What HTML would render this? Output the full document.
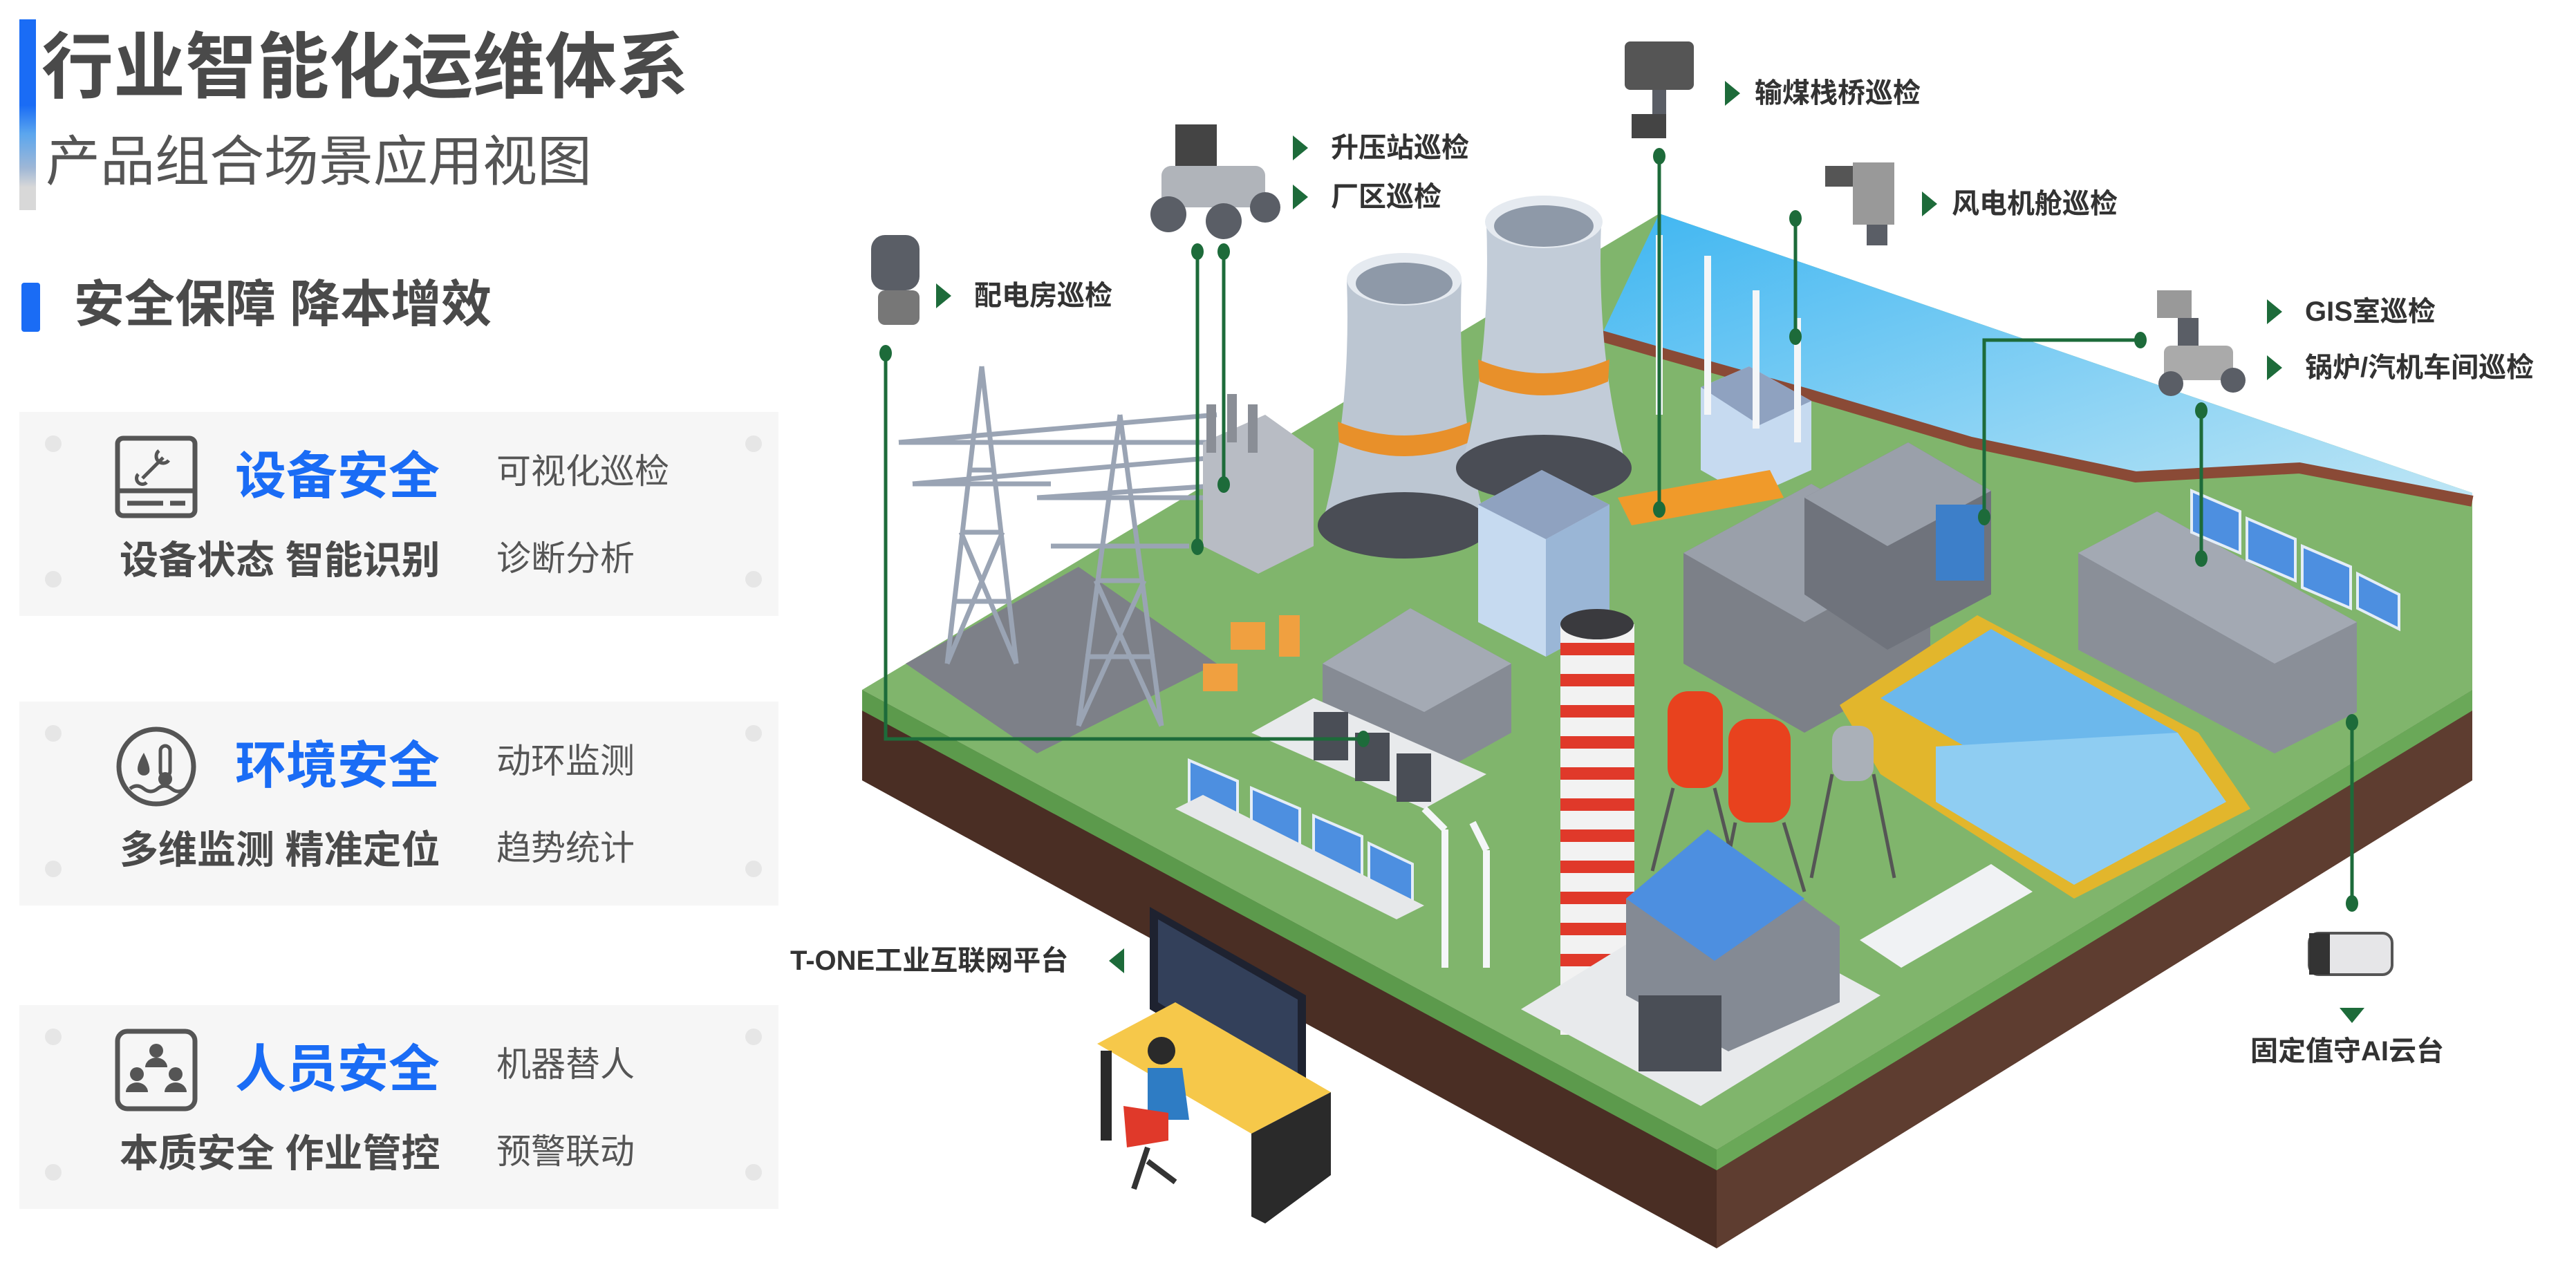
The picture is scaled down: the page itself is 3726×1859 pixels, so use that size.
<!DOCTYPE html>
<html><head><meta charset="utf-8"><style>
html,body{margin:0;padding:0;background:#fff;}
body{width:3726px;height:1859px;position:relative;overflow:hidden;font-family:"Liberation Sans","Noto Sans CJK SC",sans-serif;}
.a{position:absolute;white-space:nowrap;line-height:1;}
.card{position:absolute;left:28px;width:1098px;height:295px;background:#f6f6f6;}
.dot{position:absolute;width:24px;height:24px;border-radius:50%;background:#e6e6e6;}
.h{position:absolute;left:312px;top:33px;font-size:74px;font-weight:bold;color:#1a6cf5;}
.r1{position:absolute;left:690px;top:46px;font-size:50px;color:#555;}
.b{position:absolute;left:145px;top:170px;font-size:56px;font-weight:bold;color:#4a4a4a;}
.r2{position:absolute;left:690px;top:172px;font-size:50px;color:#555;}
.lb{position:absolute;font-size:40px;font-weight:bold;color:#333;white-space:nowrap;line-height:1;}
</style></head><body>
<div class="a" style="left:28px;top:28px;width:24px;height:276px;background:linear-gradient(#1a6cf5 0%,#1a6cf5 45%,#5ba6ee 60%,#9fb7d6 78%,#d8d8d8 88%,#d8d8d8 100%);"></div>
<div class="a" style="left:60px;top:46px;font-size:104px;font-weight:bold;color:#4a4a4a;">行业智能化运维体系</div>
<div class="a" style="left:66px;top:194px;font-size:79px;color:#555;">产品组合场景应用视图</div>
<div class="a" style="left:31px;top:409px;width:27px;height:71px;background:#1a6cf5;border-radius:4px;"></div>
<div class="a" style="left:107px;top:404px;font-size:73px;font-weight:bold;color:#4a4a4a;">安全保障 降本增效</div>

<div class="card" style="top:596px;">
 <div class="dot" style="left:37px;top:34px"></div><div class="dot" style="left:1050px;top:34px"></div>
 <div class="dot" style="left:37px;top:230px"></div><div class="dot" style="left:1050px;top:230px"></div>
 <svg style="position:absolute;left:138px;top:34px" width="120" height="120" viewBox="0 0 120 120"><rect x="4" y="4" width="112" height="112" rx="8" fill="none" stroke="#555" stroke-width="7"/><line x1="4" y1="80" x2="116" y2="80" stroke="#555" stroke-width="7"/><line x1="18" y1="98" x2="70" y2="98" stroke="#555" stroke-width="7"/><line x1="80" y1="98" x2="102" y2="98" stroke="#555" stroke-width="7"/><path d="M40 62 L70 32 M64 22 a10 10 0 1 0 14 14 M34 56 a8 8 0 1 0 12 12" fill="none" stroke="#555" stroke-width="5"/></svg>
 <div class="h">设备安全</div><div class="r1">可视化巡检</div>
 <div class="b">设备状态 智能识别</div><div class="r2">诊断分析</div>
</div>
<div class="card" style="top:1015px;">
 <div class="dot" style="left:37px;top:34px"></div><div class="dot" style="left:1050px;top:34px"></div>
 <div class="dot" style="left:37px;top:230px"></div><div class="dot" style="left:1050px;top:230px"></div>
 <svg style="position:absolute;left:138px;top:34px" width="120" height="120" viewBox="0 0 120 120"><circle cx="60" cy="60" r="54" fill="none" stroke="#555" stroke-width="7"/><path d="M42 40 Q30 60 34 68 a9 9 0 0 0 16 0 Q52 60 42 40z" fill="#555"/><rect x="66" y="30" width="14" height="44" rx="7" fill="none" stroke="#555" stroke-width="5"/><circle cx="73" cy="78" r="10" fill="#555"/><path d="M22 92 q10 -8 20 0 t20 0 t20 0 t20 0" fill="none" stroke="#555" stroke-width="5"/></svg>
 <div class="h">环境安全</div><div class="r1">动环监测</div>
 <div class="b">多维监测 精准定位</div><div class="r2">趋势统计</div>
</div>
<div class="card" style="top:1454px;">
 <div class="dot" style="left:37px;top:34px"></div><div class="dot" style="left:1050px;top:34px"></div>
 <div class="dot" style="left:37px;top:230px"></div><div class="dot" style="left:1050px;top:230px"></div>
 <svg style="position:absolute;left:138px;top:34px" width="120" height="120" viewBox="0 0 120 120"><rect x="4" y="4" width="112" height="112" rx="14" fill="none" stroke="#555" stroke-width="7"/><circle cx="60" cy="32" r="10" fill="#555"/><path d="M44 56 a16 14 0 0 1 32 0z" fill="#555"/><circle cx="32" cy="66" r="10" fill="#555"/><path d="M16 92 a16 14 0 0 1 32 0z" fill="#555"/><circle cx="88" cy="66" r="10" fill="#555"/><path d="M72 92 a16 14 0 0 1 32 0z" fill="#555"/></svg>
 <div class="h">人员安全</div><div class="r1">机器替人</div>
 <div class="b">本质安全 作业管控</div><div class="r2">预警联动</div>
</div>

<svg style="position:absolute;left:0;top:0" width="3726" height="1859" viewBox="0 0 3726 1859">
<defs><linearGradient id="sky" x1="0" y1="0" x2="1" y2="1"><stop offset="0" stop-color="#3fb6f2"/><stop offset="1" stop-color="#bfe6f5"/></linearGradient></defs>
<polygon points="1247,998 2483,1663 2483,1806 1247,1129" fill="#4a2e24"/>
<polygon points="2483,1663 3576,998 3576,1129 2483,1806" fill="#5e3d30"/>
<polygon points="1247,998 2483,1663 2483,1693 1247,1028" fill="#5c9a4c"/>
<polygon points="2483,1663 3576,998 3576,1028 2483,1693" fill="#6aa858"/>
<polygon points="1247,998 2400,309 3576,713 3576,998 2483,1663" fill="#80b56c"/>
<polygon points="2400,309 3576,713 3576,725 3326,677 3089,690 2851,640 2614,570 2400,510 2316,486" fill="url(#sky)"/>
<path d="M2316,486 2400,510 2614,570 2851,640 3089,690 3326,677 3576,725" fill="none" stroke="#8a4a36" stroke-width="16"/>
<polygon points="1310,960 1560,820 1760,960 1500,1090" fill="#7d8088"/>
<g stroke="#9aa4b4" stroke-width="7" fill="none">
<path d="M1420,530 1370,960 M1420,530 1470,960 M1380,870 1460,870 M1390,770 1450,770 M1400,680 1440,680 M1370,960 1450,770 M1470,960 1390,770 M1300,640 1540,640 M1320,700 1520,700"/>
<path d="M1620,600 1560,1050 M1620,600 1680,1050 M1570,950 1670,950 M1585,840 1655,840 M1560,1050 1655,840 M1680,1050 1585,840 M1500,720 1740,720 M1520,790 1720,790"/>
<path d="M1300,640 1760,600 M1320,700 1780,660 M1500,720 1800,700 M1540,640 1800,640"/>
</g>
<polygon points="1740,640 1830,600 1900,650 1900,790 1820,830 1740,790" fill="#b8bcc4"/>
<g fill="#8a8e96"><rect x="1745" y="585" width="14" height="70"/><rect x="1775" y="570" width="14" height="70"/><rect x="1805" y="585" width="14" height="70"/></g>
<path d="M1948,404 Q1955,600 1912,760 L2150,760 Q2107,600 2114,404z" fill="#bcc6d2"/>
<ellipse cx="2031" cy="760" rx="125" ry="48" fill="#4a4d55"/>
<path d="M1935,610 Q2031,650 2127,610 L2125,640 Q2031,680 1937,640z" fill="#e8902a"/>
<ellipse cx="2031" cy="404" rx="83" ry="38" fill="#e5eaf0"/><ellipse cx="2031" cy="410" rx="70" ry="30" fill="#8e99a8"/>
<path d="M2150,321 Q2157,520 2113,677 L2353,677 Q2309,520 2316,321z" fill="#c2ccd8"/>
<ellipse cx="2233" cy="677" rx="127" ry="48" fill="#4a4d55"/>
<path d="M2138,520 Q2233,560 2328,520 L2326,552 Q2233,592 2140,552z" fill="#e8902a"/>
<ellipse cx="2233" cy="321" rx="85" ry="38" fill="#e5eaf0"/><ellipse cx="2233" cy="327" rx="72" ry="30" fill="#8e99a8"/>
<polygon points="2138,730 2230,680 2328,730 2328,900 2236,950 2138,900" fill="#c6daf0"/>
<polygon points="2236,780 2328,730 2328,900 2236,950" fill="#9ab6d6"/>
<polygon points="2138,730 2230,680 2328,730 2236,780" fill="#8fa2c0"/>
<polygon points="2460,560 2530,530 2620,580 2620,680 2530,720 2460,680" fill="#c6daf0"/>
<polygon points="2460,560 2530,530 2620,580 2545,615" fill="#8fa2c0"/>
<polygon points="2340,720 2560,680 2580,720 2360,760" fill="#f09a2a"/>
<polygon points="2435,800 2620,700 2792,800 2792,960 2610,1060 2435,960" fill="#7c8088"/>
<polygon points="2435,800 2620,700 2792,800 2610,900" fill="#9aa0aa"/>
<polygon points="2610,720 2760,640 2880,710 2880,860 2730,940 2610,860" fill="#6f737c"/>
<polygon points="2610,720 2760,640 2880,710 2730,790" fill="#9aa0aa"/>
<rect x="2800" y="730" width="70" height="110" fill="#3d7fc9"/>
<polygon points="3006,800 3120,740 3409,900 3409,1030 3290,1090 3006,940" fill="#8a8f98"/>
<polygon points="3006,800 3120,740 3409,900 3290,960" fill="#a3a9b3"/>
<g fill="#4d8fe0" stroke="#e4edf7" stroke-width="4">
<polygon points="3170,710 3240,740 3240,800 3170,770"/><polygon points="3250,750 3320,780 3320,840 3250,810"/><polygon points="3330,790 3400,820 3400,880 3330,850"/><polygon points="3410,830 3470,860 3470,910 3410,880"/>
</g>
<polygon points="2661,1020 2860,890 3180,1060 3255,1170 3000,1300 2720,1120" fill="#e2b62c"/>
<polygon points="2720,1010 2880,910 3150,1060 3000,1170" fill="#6cb8ec"/>
<polygon points="2800,1080 3150,1060 3220,1160 3000,1280 2800,1160" fill="#8fcdf2"/>
<polygon points="1913,960 2040,880 2186,960 2186,1060 2060,1130 1913,1060" fill="#868b94"/>
<polygon points="1913,960 2040,880 2186,960 2060,1030" fill="#a4aab4"/>
<polygon points="1810,1060 2060,1170 2150,1120 1900,1010" fill="#e8eaec"/>
<g fill="#4a4e56"><rect x="1900" y="1030" width="50" height="70"/><rect x="1960" y="1060" width="50" height="70"/><rect x="2020" y="1090" width="50" height="70"/></g>
<g fill="#f0a040"><rect x="1780" y="900" width="50" height="40"/><rect x="1850" y="890" width="30" height="60"/><rect x="1740" y="960" width="50" height="40"/></g>
<g fill="#4d8fe0" stroke="#e4edf7" stroke-width="4">
<polygon points="1720,1100 1790,1130 1790,1190 1720,1160"/><polygon points="1810,1140 1880,1170 1880,1230 1810,1200"/><polygon points="1900,1180 1970,1210 1970,1270 1900,1240"/><polygon points="1980,1220 2043,1250 2043,1310 1980,1280"/>
</g>
<polygon points="1700,1170 2020,1330 2060,1310 1740,1150" fill="#e6e8ea"/>
<g stroke="#f4f6f8" stroke-width="10" fill="none"><path d="M2090,1200 2090,1400 M2150,1230 2150,1400 M2090,1200 2060,1170 M2150,1230 2130,1190 M2400,340 2400,600 M2470,370 2470,600 M2540,420 2540,620 M2600,460 2600,640"/></g>
<rect x="2412" y="1000" width="80" height="140" rx="30" fill="#e8421e"/>
<rect x="2500" y="1040" width="90" height="150" rx="30" fill="#e8421e"/>
<g stroke="#555" stroke-width="5" fill="none"><path d="M2420,1140 2390,1260 M2480,1140 2510,1260 M2510,1190 2490,1290 M2580,1190 2610,1290 M2650,1120 2620,1270 M2710,1120 2740,1270"/></g>
<rect x="2650" y="1050" width="60" height="80" rx="20" fill="#aab0b8"/>
<rect x="2257" y="903" width="107" height="594" fill="#f2f2f2"/>
<g fill="#e0392a">
<rect x="2257" y="930" width="107" height="18"/><rect x="2257" y="975" width="107" height="18"/><rect x="2257" y="1020" width="107" height="18"/><rect x="2257" y="1065" width="107" height="18"/><rect x="2257" y="1110" width="107" height="18"/><rect x="2257" y="1155" width="107" height="18"/><rect x="2257" y="1200" width="107" height="18"/><rect x="2257" y="1245" width="107" height="18"/><rect x="2257" y="1290" width="107" height="18"/><rect x="2257" y="1335" width="107" height="18"/><rect x="2257" y="1380" width="107" height="18"/><rect x="2257" y="1425" width="107" height="18"/><rect x="2257" y="1470" width="107" height="18"/>
</g>
<ellipse cx="2310" cy="903" rx="53" ry="22" fill="#3a3a3e"/>
<polygon points="2200,1460 2460,1600 2720,1440 2460,1300" fill="#e8eaec"/>
<polygon points="2352,1300 2470,1200 2661,1340 2661,1450 2500,1521 2352,1440" fill="#848a94"/>
<polygon points="2352,1300 2470,1200 2610,1300 2480,1390" fill="#4d8fe0"/>
<rect x="2370" y="1440" width="120" height="110" fill="#4a4e56"/>
<polygon points="2690,1360 2880,1250 2940,1290 2750,1400" fill="#f0f2f4"/>
<polygon points="1663,1312 1889,1440 1889,1592 1663,1460" fill="#1e2230"/>
<polygon points="1675,1330 1877,1446 1877,1575 1675,1450" fill="#33405a"/>
<polygon points="1587,1510 1700,1450 1925,1580 1810,1640" fill="#f6c84a"/>
<polygon points="1810,1640 1925,1580 1925,1700 1830,1770 1810,1760" fill="#2a2a2a"/>
<rect x="1592" y="1520" width="16" height="130" fill="#2a2a2a"/>
<circle cx="1680" cy="1520" r="20" fill="#2a2a2a"/>
<path d="M1660,1545 1710,1545 1720,1620 1660,1620z" fill="#2e7cc4"/>
<path d="M1625,1600 1690,1610 1690,1650 1630,1660z" fill="#e0392a"/>
<path d="M1660,1660 1640,1720 M1660,1680 1700,1710" stroke="#333" stroke-width="8"/>
<g fill="#5a5e66">
<rect x="1260" y="340" width="70" height="80" rx="20"/><rect x="1270" y="420" width="60" height="50" rx="10" fill="#777"/>
<rect x="1700" y="180" width="60" height="60" fill="#444"/><rect x="1680" y="240" width="150" height="60" rx="14" fill="#b0b4ba"/><circle cx="1690" cy="310" r="26"/><circle cx="1770" cy="320" r="26"/><circle cx="1830" cy="300" r="22"/>
<rect x="2350" y="60" width="100" height="70" rx="8" fill="#555"/><rect x="2390" y="130" width="20" height="40"/><rect x="2360" y="165" width="50" height="35" fill="#444"/>
<rect x="2640" y="240" width="50" height="30" fill="#555"/><rect x="2680" y="235" width="60" height="90" fill="#999"/><rect x="2700" y="325" width="30" height="30"/>
<rect x="3120" y="420" width="50" height="40" fill="#999"/><rect x="3150" y="460" width="30" height="40"/><rect x="3130" y="500" width="100" height="50" rx="10" fill="#aaa"/><circle cx="3140" cy="555" r="18"/><circle cx="3230" cy="550" r="18"/>
<rect x="3340" y="1350" width="120" height="60" rx="14" fill="#e6e6e8" stroke="#555" stroke-width="4"/><rect x="3340" y="1350" width="30" height="60" fill="#333"/>
</g>
<g stroke="#1d6b3a" stroke-width="5" fill="none">
<path d="M1281,511 V1069 H1972"/><path d="M1732,364 V791"/><path d="M1770,364 V701"/><path d="M2400,226 V737"/><path d="M2597,316 V487"/><path d="M3096,492 H2870 V748"/><path d="M3184,594 V808"/><path d="M3402,1045 V1307"/>
</g>
<g fill="#1d6b3a">
<ellipse cx="1281" cy="511" rx="9" ry="12"/><ellipse cx="1972" cy="1069" rx="9" ry="12"/><ellipse cx="1732" cy="364" rx="9" ry="12"/><ellipse cx="1770" cy="364" rx="9" ry="12"/><ellipse cx="1732" cy="791" rx="9" ry="12"/><ellipse cx="1770" cy="701" rx="9" ry="12"/><ellipse cx="2400" cy="226" rx="9" ry="12"/><ellipse cx="2400" cy="737" rx="9" ry="12"/><ellipse cx="2597" cy="316" rx="9" ry="12"/><ellipse cx="2597" cy="487" rx="9" ry="12"/><ellipse cx="3096" cy="492" rx="9" ry="12"/><ellipse cx="2870" cy="748" rx="9" ry="12"/><ellipse cx="3184" cy="594" rx="9" ry="12"/><ellipse cx="3184" cy="808" rx="9" ry="12"/><ellipse cx="3402" cy="1045" rx="9" ry="12"/><ellipse cx="3402" cy="1307" rx="9" ry="12"/>
<polygon points="2495,117 2517,135 2495,153"/><polygon points="1870,196 1892,214 1870,232"/><polygon points="1870,267 1892,285 1870,303"/><polygon points="2780,277 2802,295 2780,313"/><polygon points="1354,410 1376,428 1354,446"/><polygon points="3279,433 3301,451 3279,469"/><polygon points="3279,514 3301,532 3279,550"/><polygon points="1626,1372 1604,1390 1626,1408"/><polygon points="3384,1458 3420,1458 3402,1480"/>
</g>
</svg>
<div class="lb" style="left:2538px;top:115px">输煤栈桥巡检</div>
<div class="lb" style="left:1925px;top:194px">升压站巡检</div>
<div class="lb" style="left:1925px;top:265px">厂区巡检</div>
<div class="lb" style="left:2823px;top:275px">风电机舱巡检</div>
<div class="lb" style="left:1409px;top:408px">配电房巡检</div>
<div class="lb" style="left:3334px;top:431px">GIS室巡检</div>
<div class="lb" style="left:3334px;top:512px">锅炉/汽机车间巡检</div>
<div class="lb" style="left:1143px;top:1370px">T-ONE工业互联网平台</div>
<div class="lb" style="left:3255px;top:1501px">固定值守AI云台</div>
</body></html>
